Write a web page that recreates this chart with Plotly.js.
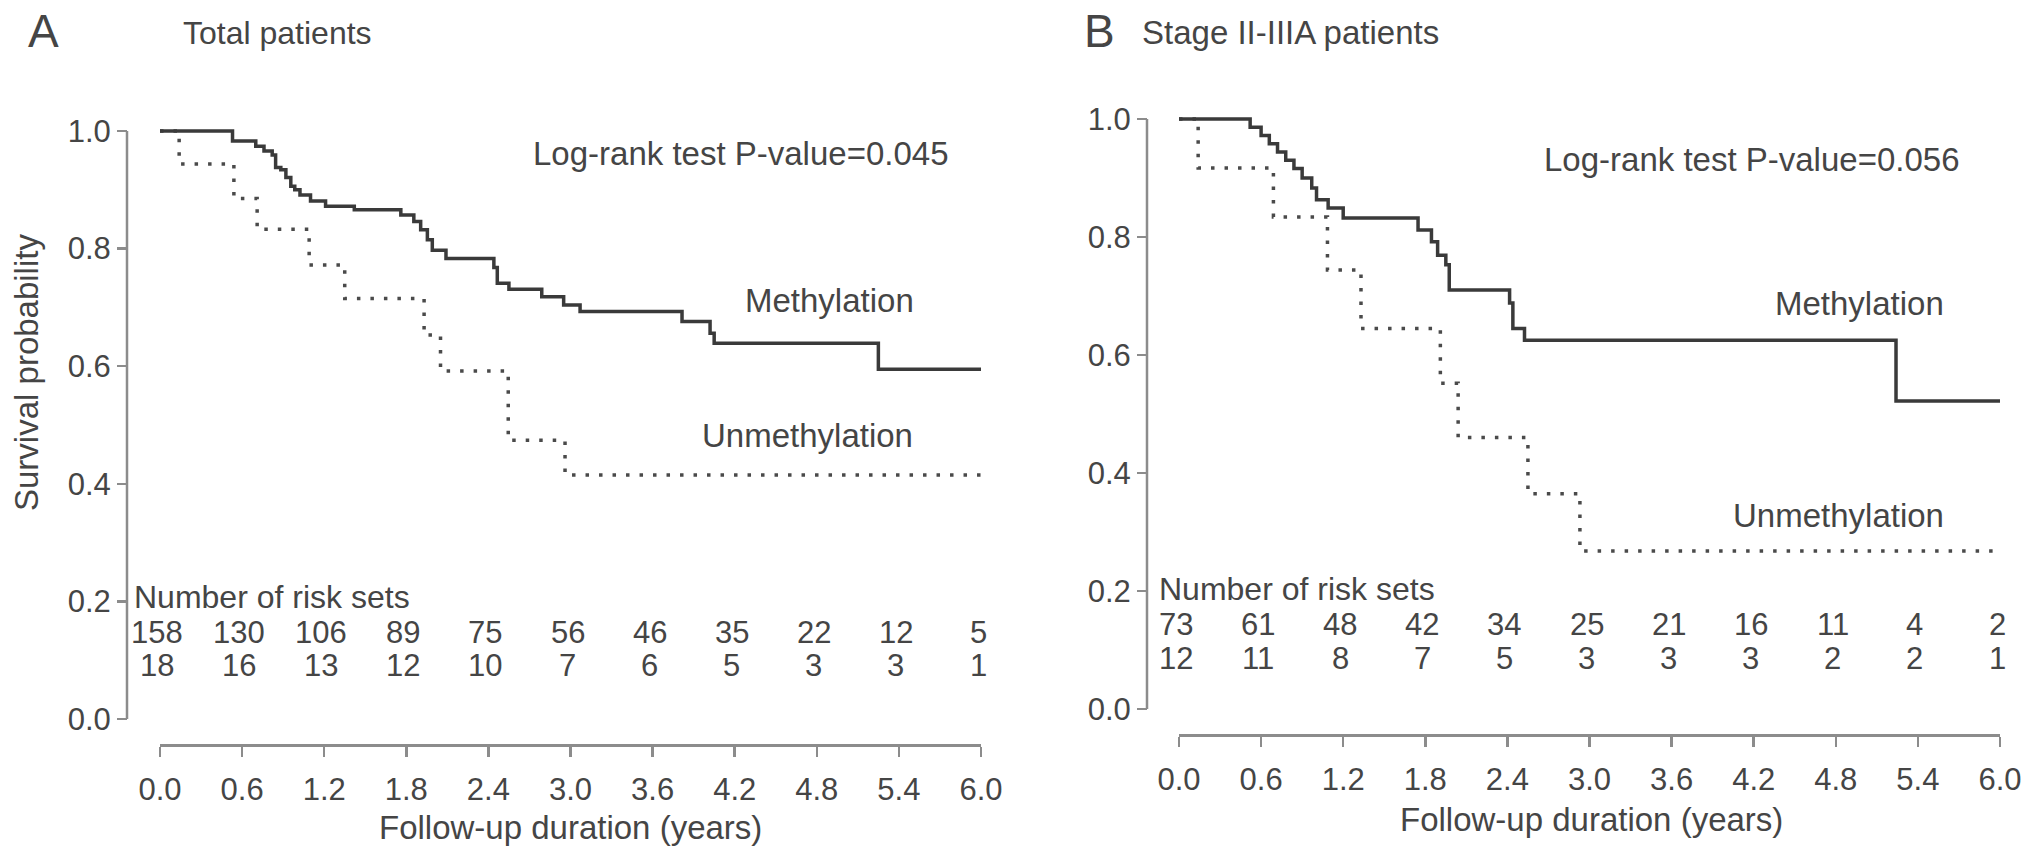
<!DOCTYPE html>
<html>
<head>
<meta charset="utf-8">
<script src="https://cdn.plot.ly/plotly-3.0.1.min.js"></script>
<style>html,body{margin:0;padding:0;background:#fff;}#chart{width:2032px;height:866px;}</style>
</head>
<body>
<div id="chart"></div>
<script>
// ---------- data ----------
var tickTimes = [0, 0.6, 1.2, 1.8, 2.4, 3.0, 3.6, 4.2, 4.8, 5.4, 6.0];
var tickLabels = ['0.0','0.6','1.2','1.8','2.4','3.0','3.6','4.2','4.8','5.4','6.0'];
var yTickVals = [0, 0.2, 0.4, 0.6, 0.8, 1.0];
var yTickLabels = ['0.0','0.2','0.4','0.6','0.8','1.0'];

// Panel A: total patients
var timeA_meth = [0, 0.53, 0.70, 0.76, 0.82, 0.845, 0.883, 0.92, 0.956, 0.985, 1.023, 1.10, 1.21, 1.42, 1.76, 1.855, 1.905, 1.954, 1.99, 2.09, 2.44, 2.465, 2.55, 2.79, 2.95, 3.07, 3.815, 4.02, 4.05, 5.25, 6.0];
var survA_meth = [1, 0.983, 0.974, 0.966, 0.959, 0.938, 0.934, 0.921, 0.906, 0.900, 0.891, 0.881, 0.872, 0.866, 0.857, 0.846, 0.832, 0.815, 0.797, 0.783, 0.768, 0.741, 0.731, 0.718, 0.704, 0.693, 0.676, 0.656, 0.639, 0.595, 0.595];
var timeA_unmeth = [0, 0.14, 0.54, 0.71, 1.09, 1.35, 1.93, 2.05, 2.545, 2.96, 6.0];
var survA_unmeth = [1, 0.944, 0.885, 0.833, 0.772, 0.715, 0.653, 0.592, 0.474, 0.415, 0.415];
var riskA_meth = [158, 130, 106, 89, 75, 56, 46, 35, 22, 12, 5];
var riskA_unmeth = [18, 16, 13, 12, 10, 7, 6, 5, 3, 3, 1];

// Panel B: stage II-IIIA patients
var timeB_meth = [0, 0.52, 0.60, 0.66, 0.72, 0.78, 0.84, 0.90, 0.97, 1.005, 1.09, 1.20, 1.747, 1.845, 1.89, 1.95, 1.975, 2.416, 2.44, 2.525, 5.24, 6.0];
var survB_meth = [1, 0.986, 0.972, 0.958, 0.944, 0.930, 0.916, 0.900, 0.883, 0.863, 0.849, 0.832, 0.812, 0.792, 0.769, 0.753, 0.710, 0.688, 0.645, 0.625, 0.522, 0.522];
var timeB_unmeth = [0, 0.14, 0.69, 1.085, 1.33, 1.91, 2.04, 2.55, 2.93, 6.0];
var survB_unmeth = [1, 0.917, 0.834, 0.744, 0.645, 0.552, 0.460, 0.365, 0.268, 0.268];
var riskB_meth = [73, 61, 48, 42, 34, 25, 21, 16, 11, 4, 2];
var riskB_unmeth = [12, 11, 8, 7, 5, 3, 3, 3, 2, 2, 1];

// ---------- layout helpers ----------
var W = 2032, H = 866;
function px(x){ return x / W; }
function py(y){ return 1 - y / H; }
var FONT = '"Liberation Sans", Arial, Helvetica, sans-serif';
var TXT = '#454545';
var CURVE = '#3a3a3a';
var AXC = '#8c8c8c';

// panel geometry (pixels)
var P = {
  A: {x0: 160, x6: 981, y1: 131, y0: 719, xAxisY: 745, yAxisX: 127},
  B: {x0: 1179, x6: 2000, y1: 119, y0: 709, xAxisY: 735, yAxisX: 1147}
};
var pad = 0.02;
function yDomain(p){
  var per = p.y0 - p.y1;
  var top = p.y1 - pad * per, bot = p.y0 + pad * per;
  return [py(bot), py(top)];
}
function xPix(p, t){ return p.x0 + t * (p.x6 - p.x0) / 6; }

function xAxis(p){
  return {
    domain: [px(p.x0), px(p.x6)], range: [0, 6], anchor: 'free', position: py(p.xAxisY),
    tickmode: 'array', tickvals: tickTimes, ticktext: tickLabels,
    ticks: 'outside', ticklen: 10, tickwidth: 2.5, tickcolor: AXC,
    showline: true, linecolor: AXC, linewidth: 2.5,
    showgrid: false, zeroline: false, ticklabelstandoff: 6,
    tickfont: {family: FONT, size: 31, color: TXT}
  };
}
function yAxis(p){
  return {
    domain: yDomain(p), range: [-pad, 1 + pad], anchor: 'free', position: px(p.yAxisX),
    tickmode: 'array', tickvals: yTickVals, ticktext: yTickLabels,
    ticks: 'outside', ticklen: 10, tickwidth: 2.5, tickcolor: AXC,
    showline: false, showgrid: false, zeroline: false, ticklabelstandoff: 0,
    tickfont: {family: FONT, size: 31, color: TXT}
  };
}

function stepTrace(xs, ys, xa, ya, dotted){
  return {
    type: 'scatter', mode: 'lines', x: xs, y: ys, xaxis: xa, yaxis: ya,
    line: {shape: 'hv', color: dotted ? '#4a4a4a' : CURVE, width: 3.5, dash: dotted ? '3.5px,10px' : 'solid'},
    hoverinfo: 'skip'
  };
}

var data = [
  stepTrace(timeA_unmeth, survA_unmeth, 'x', 'y', true),
  stepTrace(timeA_meth, survA_meth, 'x', 'y', false),
  stepTrace(timeB_unmeth, survB_unmeth, 'x2', 'y2', true),
  stepTrace(timeB_meth, survB_meth, 'x2', 'y2', false)
];

function ann(text, x, y, size, xanchor, extra){
  var a = {text: text, x: px(x), y: py(y), xref: 'paper', yref: 'paper', showarrow: false,
    xanchor: xanchor || 'left', yanchor: 'middle', font: {family: FONT, size: size, color: TXT}};
  if (extra) for (var k in extra) a[k] = extra[k];
  return a;
}

var annotations = [
  ann('A', 26, 31, 46),
  ann('Total patients', 181, 33, 32),
  ann('Log-rank test P-value=0.045', 531, 153, 33),
  ann('Methylation', 743, 301, 33),
  ann('Unmethylation', 700, 435, 33),
  ann('Number of risk sets', 132, 597, 32),
  ann('Follow-up duration (years)', 570, 827, 33, 'center'),
  ann('Survival probability', 26, 373, 33, 'center', {textangle: -90}),
  ann('B', 1082, 31, 46),
  ann('Stage II-IIIA patients', 1140, 33, 33),
  ann('Log-rank test P-value=0.056', 1542, 159, 33),
  ann('Methylation', 1773, 303, 33),
  ann('Unmethylation', 1731, 515, 33),
  ann('Number of risk sets', 1157, 589, 32)
  , ann('Follow-up duration (years)', 1591, 819, 33, 'center')
];

function riskRow(vals, p, yPix){
  vals.forEach(function(v, i){
    annotations.push(ann(String(v), xPix(p, tickTimes[i]) - 3, yPix, 31, 'center'));
  });
}
riskRow(riskA_meth, P.A, 632);
riskRow(riskA_unmeth, P.A, 665);
riskRow(riskB_meth, P.B, 624);
riskRow(riskB_unmeth, P.B, 658);

var shapes = [
  {type: 'line', xref: 'paper', yref: 'y', x0: px(P.A.yAxisX), x1: px(P.A.yAxisX), y0: 0, y1: 1, line: {color: AXC, width: 2.5}},
  {type: 'line', xref: 'paper', yref: 'y2', x0: px(P.B.yAxisX), x1: px(P.B.yAxisX), y0: 0, y1: 1, line: {color: AXC, width: 2.5}}
];

var layout = {
  width: W, height: H, margin: {l: 0, r: 0, t: 0, b: 0},
  paper_bgcolor: '#ffffff', plot_bgcolor: 'rgba(0,0,0,0)', showlegend: false,
  font: {family: FONT, color: TXT},
  xaxis: xAxis(P.A), yaxis: yAxis(P.A),
  xaxis2: xAxis(P.B), yaxis2: yAxis(P.B),
  annotations: annotations, shapes: shapes
};

Plotly.newPlot('chart', data, layout, {staticPlot: true, displayModeBar: false});
</script>
</body>
</html>
